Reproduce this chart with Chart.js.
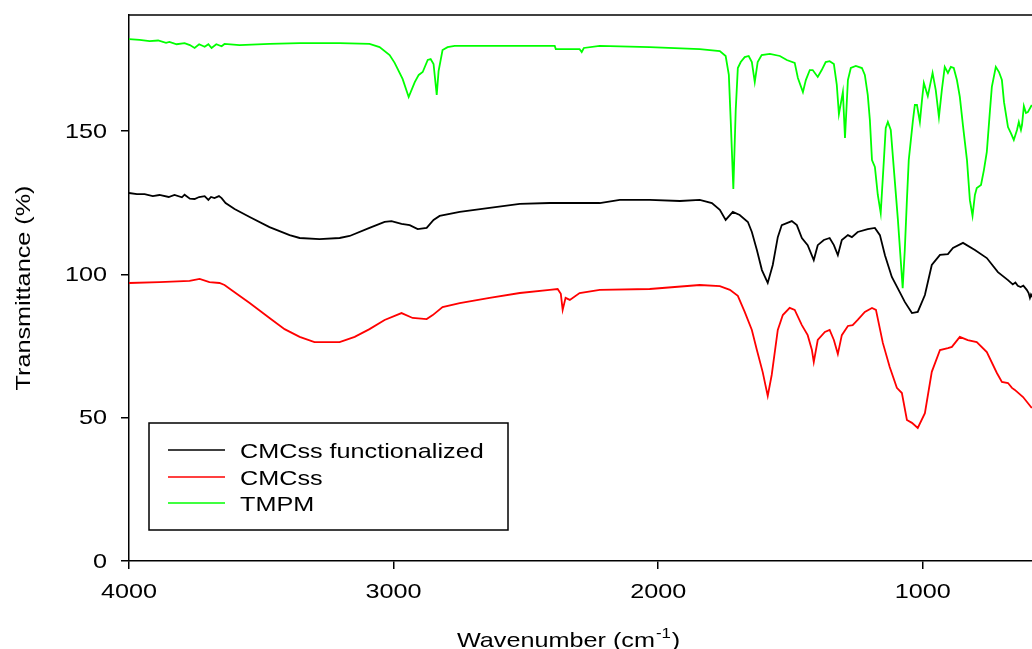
<!DOCTYPE html>
<html>
<head>
<meta charset="utf-8">
<script src="https://cdn.jsdelivr.net/npm/chart.js@4"></script>
<style>
  body { margin: 0; background: #fff; overflow: hidden; }
  #wrap { width: 1040px; height: 649px; }
</style>
</head>
<body>
<div id="wrap"><canvas id="ftir" width="1040" height="649"></canvas></div>
<script>
// FTIR spectra (wavenumber in cm-1, transmittance in %)
const wnFunc = [4000, 3970, 3941, 3910, 3885, 3850, 3828, 3800, 3790, 3770, 3752, 3735, 3714, 3700, 3690, 3677, 3660, 3650, 3635, 3601, 3544, 3469, 3393, 3355, 3280, 3204, 3166, 3091, 3034, 3008, 2970, 2939, 2909, 2875, 2849, 2826, 2750, 2637, 2523, 2410, 2297, 2221, 2145, 2032, 1918, 1843, 1797, 1767, 1745, 1718, 1692, 1661, 1646, 1627, 1608, 1586, 1567, 1548, 1533, 1495, 1476, 1457, 1435, 1412, 1397, 1374, 1352, 1336, 1321, 1306, 1283, 1268, 1246, 1208, 1181, 1162, 1143, 1117, 1087, 1068, 1041, 1019, 992, 966, 935, 905, 886, 848, 803, 758, 716, 678, 660, 650, 641, 630, 620, 607, 600, 595, 591, 588];
const tFunc = [128.4, 128.0, 128.0, 127.3, 127.7, 127.0, 127.7, 126.9, 127.8, 126.4, 126.3, 127.0, 127.3, 126.0, 127.0, 126.6, 127.3, 126.6, 124.9, 122.8, 120.0, 116.5, 113.7, 112.7, 112.3, 112.7, 113.4, 116.2, 118.3, 118.6, 117.6, 117.2, 115.8, 116.2, 119.0, 120.4, 121.8, 123.2, 124.6, 124.9, 124.9, 124.9, 126.0, 126.0, 125.6, 126.0, 124.9, 122.5, 119.0, 121.8, 120.7, 118.3, 114.8, 108.5, 101.5, 97.0, 103.3, 113.0, 117.2, 118.6, 117.2, 112.7, 110.2, 105.0, 110.2, 112.0, 112.7, 110.2, 106.7, 112.0, 113.7, 113.0, 114.8, 115.8, 116.2, 113.7, 106.7, 99.1, 93.8, 90.4, 86.5, 86.9, 92.8, 103.3, 106.8, 107.1, 109.2, 111.0, 108.5, 105.7, 100.8, 98.0, 96.5, 97.2, 96.0, 95.6, 96.1, 94.6, 93.5, 91.8, 93.0, 92.5];

const wnCmc = [4000, 3885, 3771, 3733, 3696, 3658, 3639, 3601, 3544, 3469, 3412, 3355, 3299, 3242, 3204, 3147, 3091, 3034, 2970, 2928, 2875, 2852, 2815, 2750, 2637, 2523, 2410, 2380, 2368, 2361, 2350, 2334, 2297, 2221, 2032, 1843, 1767, 1729, 1699, 1673, 1646, 1627, 1605, 1586, 1571, 1548, 1529, 1503, 1484, 1457, 1435, 1419, 1412, 1397, 1370, 1352, 1336, 1321, 1306, 1283, 1265, 1246, 1219, 1192, 1177, 1151, 1125, 1098, 1079, 1060, 1041, 1019, 992, 966, 935, 905, 890, 860, 830, 796, 758, 720, 701, 678, 663, 652, 621, 588];
const tCmc = [97.0, 97.3, 97.7, 98.4, 97.3, 97.0, 96.3, 93.8, 90.0, 84.8, 80.9, 78.2, 76.4, 76.4, 76.4, 78.2, 80.9, 84.1, 86.5, 84.8, 84.4, 85.8, 88.6, 90.0, 91.8, 93.5, 94.6, 94.9, 93.2, 87.6, 91.8, 91.1, 93.5, 94.6, 94.9, 96.3, 95.9, 94.6, 92.5, 86.9, 80.6, 73.6, 65.9, 57.6, 64.9, 80.6, 85.8, 88.3, 87.6, 82.3, 78.8, 73.6, 69.4, 77.1, 79.9, 80.6, 77.1, 72.2, 78.8, 82.0, 82.3, 84.1, 86.9, 88.3, 87.6, 76.1, 67.7, 60.4, 58.6, 49.2, 48.2, 46.4, 51.6, 66.0, 73.6, 74.3, 74.7, 78.2, 77.1, 76.4, 72.9, 65.6, 62.5, 62.1, 60.4, 59.7, 57.2, 53.4];

const wnTmpm = [4000, 3960, 3922, 3890, 3860, 3847, 3820, 3790, 3770, 3752, 3735, 3714, 3700, 3688, 3670, 3650, 3639, 3582, 3469, 3355, 3204, 3091, 3053, 3015, 2996, 2966, 2943, 2920, 2905, 2890, 2871, 2860, 2849, 2837, 2830, 2815, 2796, 2769, 2599, 2391, 2387, 2297, 2289, 2281, 2221, 2032, 1843, 1767, 1745, 1733, 1726, 1716, 1707, 1699, 1688, 1673, 1658, 1646, 1635, 1624, 1609, 1578, 1540, 1514, 1484, 1472, 1453, 1442, 1427, 1416, 1397, 1382, 1367, 1352, 1336, 1325, 1317, 1302, 1294, 1283, 1272, 1253, 1230, 1219, 1208, 1200, 1192, 1181, 1170, 1159, 1147, 1140, 1132, 1121, 1109, 1094, 1076, 1068, 1060, 1053, 1045, 1037, 1030, 1022, 1011, 1003, 996, 981, 963, 951, 939, 928, 917, 905, 894, 883, 871, 860, 848, 833, 822, 812, 803, 796, 780, 769, 758, 746, 739, 724, 712, 701, 693, 678, 667, 656, 644, 637, 629, 625, 618, 610, 603, 588];
const tTmpm = [182.1, 181.8, 181.4, 181.6, 180.8, 181.1, 180.3, 180.7, 180.0, 179.0, 180.3, 179.4, 180.3, 179.0, 180.3, 179.6, 180.4, 180.0, 180.4, 180.7, 180.7, 180.4, 179.3, 176.5, 173.8, 168.2, 161.9, 167.1, 169.6, 170.6, 174.8, 175.1, 173.4, 162.6, 170.9, 178.3, 179.3, 179.7, 179.7, 179.7, 178.6, 178.6, 177.6, 179.0, 179.7, 179.3, 178.6, 177.9, 176.2, 169.6, 153.9, 129.8, 157.3, 172.0, 174.1, 175.8, 176.2, 174.1, 167.1, 174.1, 176.5, 176.9, 176.2, 174.8, 173.8, 168.5, 163.6, 167.8, 171.3, 171.3, 168.9, 171.3, 174.1, 174.4, 173.4, 166.1, 155.9, 163.6, 147.6, 167.8, 172.0, 172.7, 172.0, 169.6, 162.6, 153.9, 139.9, 137.5, 127.7, 121.4, 139.9, 151.1, 153.2, 150.4, 136.4, 119.0, 95.2, 108.5, 125.9, 139.9, 146.9, 153.9, 159.1, 159.1, 153.2, 160.8, 166.8, 162.2, 170.3, 164.3, 154.9, 164.3, 172.4, 170.3, 172.4, 172.0, 167.8, 161.9, 151.8, 139.9, 125.9, 120.4, 127.7, 130.1, 131.2, 136.4, 142.7, 157.3, 165.4, 172.4, 170.6, 167.8, 160.1, 151.4, 149.3, 146.9, 150.4, 153.2, 150.4, 152.1, 158.7, 156.3, 156.6, 159.1];

const seriesNames = ["CMCss functionalized", "CMCss", "TMPM"];
const seriesColors = ["#000000", "#ff0000", "#00ff00"];
const xTicks = [4000, 3000, 2000, 1000];
const yTicks = [0, 50, 100, 150];

function toPoints(xs, ys) {
    return xs.map((x, i) => ({ x: x, y: ys[i] }));
}

const FONT = "21px 'Liberation Sans', Arial, sans-serif";
const SUPFONT = "14px 'Liberation Sans', Arial, sans-serif";
const STRETCH = 1.2;

// text in the picture is a bit wider than Arial, so stretch it horizontally
function stretchedText(ctx, txt, x, y, align, font) {
    ctx.save();
    ctx.font = font || FONT;
    ctx.translate(x, y);
    ctx.scale(STRETCH, 1);
    ctx.textAlign = align;
    ctx.fillText(txt, 0, 0);
    ctx.restore();
}

const decorPlugin = {
    id: "decor",
    afterDraw(chart) {
        const ctx = chart.ctx;
        const area = chart.chartArea;
        const xs = chart.scales.x, ys = chart.scales.y;
        ctx.save();
        ctx.fillStyle = "#000";
        ctx.strokeStyle = "#000";

        // top frame line
        ctx.lineWidth = 1.5;
        ctx.beginPath();
        ctx.moveTo(area.left, area.top);
        ctx.lineTo(area.right, area.top);
        ctx.stroke();

        // tick labels
        ctx.textBaseline = "middle";
        yTicks.forEach(v => stretchedText(ctx, String(v), 107, ys.getPixelForValue(v) + 1, "right"));
        xTicks.forEach(v => stretchedText(ctx, String(v), xs.getPixelForValue(v), 592, "center"));

        // axis titles
        ctx.save();
        ctx.translate(24, 288);
        ctx.rotate(-Math.PI / 2);
        stretchedText(ctx, "Transmittance (%)", 0, 0, "center");
        ctx.restore();

        ctx.textBaseline = "alphabetic";
        ctx.font = FONT;
        const main = "Wavenumber (cm";
        const wMain = ctx.measureText(main).width * STRETCH;
        ctx.font = SUPFONT;
        const wSup = ctx.measureText("-1").width * STRETCH;
        const x0 = 457, base = 647;
        stretchedText(ctx, main, x0, base, "left");
        stretchedText(ctx, "-1", x0 + wMain + 1, base - 9, "left", SUPFONT);
        stretchedText(ctx, ")", x0 + wMain + wSup + 2, base, "left");

        // legend box
        ctx.lineWidth = 1.5;
        ctx.strokeRect(149, 423, 359, 107);
        const rows = [450, 477, 503];
        seriesNames.forEach((name, i) => {
            ctx.strokeStyle = seriesColors[i];
            ctx.beginPath();
            ctx.moveTo(168, rows[i]);
            ctx.lineTo(225, rows[i]);
            ctx.stroke();
            ctx.fillStyle = "#000";
            stretchedText(ctx, name, 240, rows[i] + 8, "left");
        });
        ctx.restore();
    }
};

new Chart(document.getElementById("ftir"), {
    type: "line",
    data: {
        datasets: [
            { label: seriesNames[0], data: toPoints(wnFunc, tFunc), borderColor: seriesColors[0] },
            { label: seriesNames[1], data: toPoints(wnCmc, tCmc), borderColor: seriesColors[1] },
            { label: seriesNames[2], data: toPoints(wnTmpm, tTmpm), borderColor: seriesColors[2] }
        ]
    },
    options: {
        responsive: false,
        animation: false,
        devicePixelRatio: 1,
        layout: { padding: { top: 15, left: 0, right: 0, bottom: 0 } },
        elements: {
            point: { radius: 0 },
            line: { borderWidth: 1.8, tension: 0 }
        },
        plugins: { legend: { display: false }, tooltip: { enabled: false } },
        scales: {
            x: {
                type: "linear",
                reverse: true,
                min: 557,
                max: 4000,
                afterBuildTicks: s => { s.ticks = xTicks.map(v => ({ value: v })); },
                afterFit: s => { s.height = 88; },
                ticks: { display: false },
                grid: { drawOnChartArea: false, drawTicks: true, tickLength: 8, color: "#000", lineWidth: 1.5 },
                border: { display: true, color: "#000", width: 1.5 }
            },
            y: {
                min: 0,
                max: 190.5,
                afterBuildTicks: s => { s.ticks = yTicks.map(v => ({ value: v })); },
                afterFit: s => { s.width = 129; },
                ticks: { display: false },
                grid: { drawOnChartArea: false, drawTicks: true, tickLength: 8, color: "#000", lineWidth: 1.5 },
                border: { display: true, color: "#000", width: 1.5 }
            }
        }
    },
    plugins: [decorPlugin]
});
</script>
</body>
</html>
